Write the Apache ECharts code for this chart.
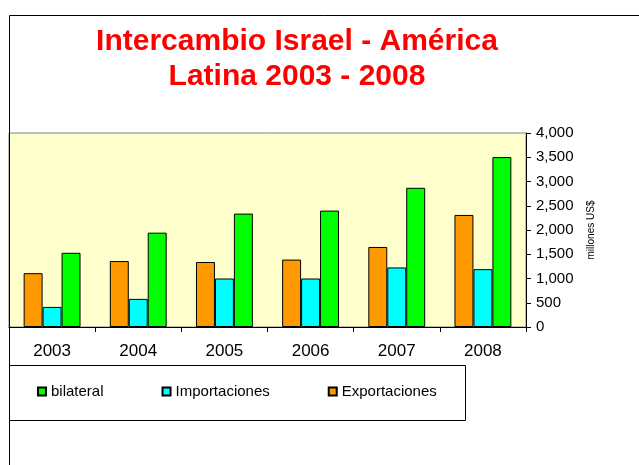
<!DOCTYPE html>
<html><head><meta charset="utf-8">
<script src="https://cdn.jsdelivr.net/npm/echarts@6/dist/echarts.min.js"></script>
<style>html,body{margin:0;padding:0;background:#fff}#c{width:639px;height:465px}</style>
</head><body><div id="c"></div>
<script>
const categories = ['2003','2004','2005','2006','2007','2008'];
const exportaciones = [1110, 1360, 1340, 1390, 1650, 2310];
const importaciones = [414, 580, 1000, 1000, 1228, 1193];
const bilateral = [1530, 1945, 2338, 2400, 2870, 3503];
const yTicks = {min: 0, max: 4000, interval: 500};
const legendOrder = ['bilateral', 'Importaciones', 'Exportaciones'];

const FONT = '"Liberation Sans", Arial, sans-serif';
const chart = echarts.init(document.getElementById('c'), null, {renderer: 'canvas'});
const barStyle = c => ({color: c, borderColor: '#000', borderWidth: 1});
chart.setOption({
  animation: false,
  backgroundColor: '#fff',
  title: {
    text: 'Intercambio Israel - América\nLatina 2003 - 2008',
    left: 297, top: 24, padding: 0,
    textAlign: 'center',
    textStyle: {color: '#FF0000', fontSize: 30, fontWeight: 'bold', fontFamily: FONT, lineHeight: 35}
  },
  graphic: [
    {type: 'rect', shape: {x: 9.5, y: 15.5, width: 700, height: 500}, style: {fill: 'none', stroke: '#000', lineWidth: 1}, z: 100, silent: true},
    {type: 'rect', shape: {x: 9.5, y: 365.5, width: 456, height: 55}, style: {fill: 'none', stroke: '#000', lineWidth: 1}, z: 100, silent: true}
  ],
  legend: {
    data: legendOrder,
    left: 37, top: 384, padding: 0,
    itemWidth: 8, itemHeight: 8, itemGap: 58,
    icon: 'rect',
    textStyle: {fontSize: 15, fontFamily: FONT, color: '#000', padding: [0, 0, 0, 0]}
  },
  grid: {
    left: 9, right: 113, top: 133, bottom: 138,
    show: true, backgroundColor: '#FFFFCC', borderColor: '#808080', borderWidth: 1
  },
  xAxis: {
    type: 'category', data: categories,
    axisLine: {lineStyle: {color: '#000', width: 1}},
    axisTick: {show: true, alignWithLabel: false, length: 5, lineStyle: {color: '#000'}},
    axisLabel: {fontSize: 17, fontFamily: FONT, color: '#000', margin: 16}
  },
  yAxis: {
    type: 'value', position: 'right',
    min: yTicks.min, max: yTicks.max, interval: yTicks.interval,
    name: 'millones US$', nameLocation: 'middle', nameRotate: 90, nameGap: 60,
    nameTextStyle: {fontSize: 10, fontFamily: FONT, color: '#000'},
    axisLine: {show: true, lineStyle: {color: '#000', width: 1}},
    axisTick: {show: true, length: 5, lineStyle: {color: '#000'}},
    splitLine: {show: false},
    axisLabel: {fontSize: 15, fontFamily: FONT, color: '#000', margin: 10,
      formatter: v => v.toLocaleString('en-US')}
  },
  series: [
    {name: 'Exportaciones', type: 'bar', data: exportaciones, itemStyle: barStyle('#FF9900'), barGap: '0%', barCategoryGap: '34%'},
    {name: 'Importaciones', type: 'bar', data: importaciones, itemStyle: barStyle('#00FFFF'), barGap: '0%', barCategoryGap: '34%'},
    {name: 'bilateral', type: 'bar', data: bilateral, itemStyle: barStyle('#00FF00'), barGap: '0%', barCategoryGap: '34%'}
  ]
});
</script></body></html>
